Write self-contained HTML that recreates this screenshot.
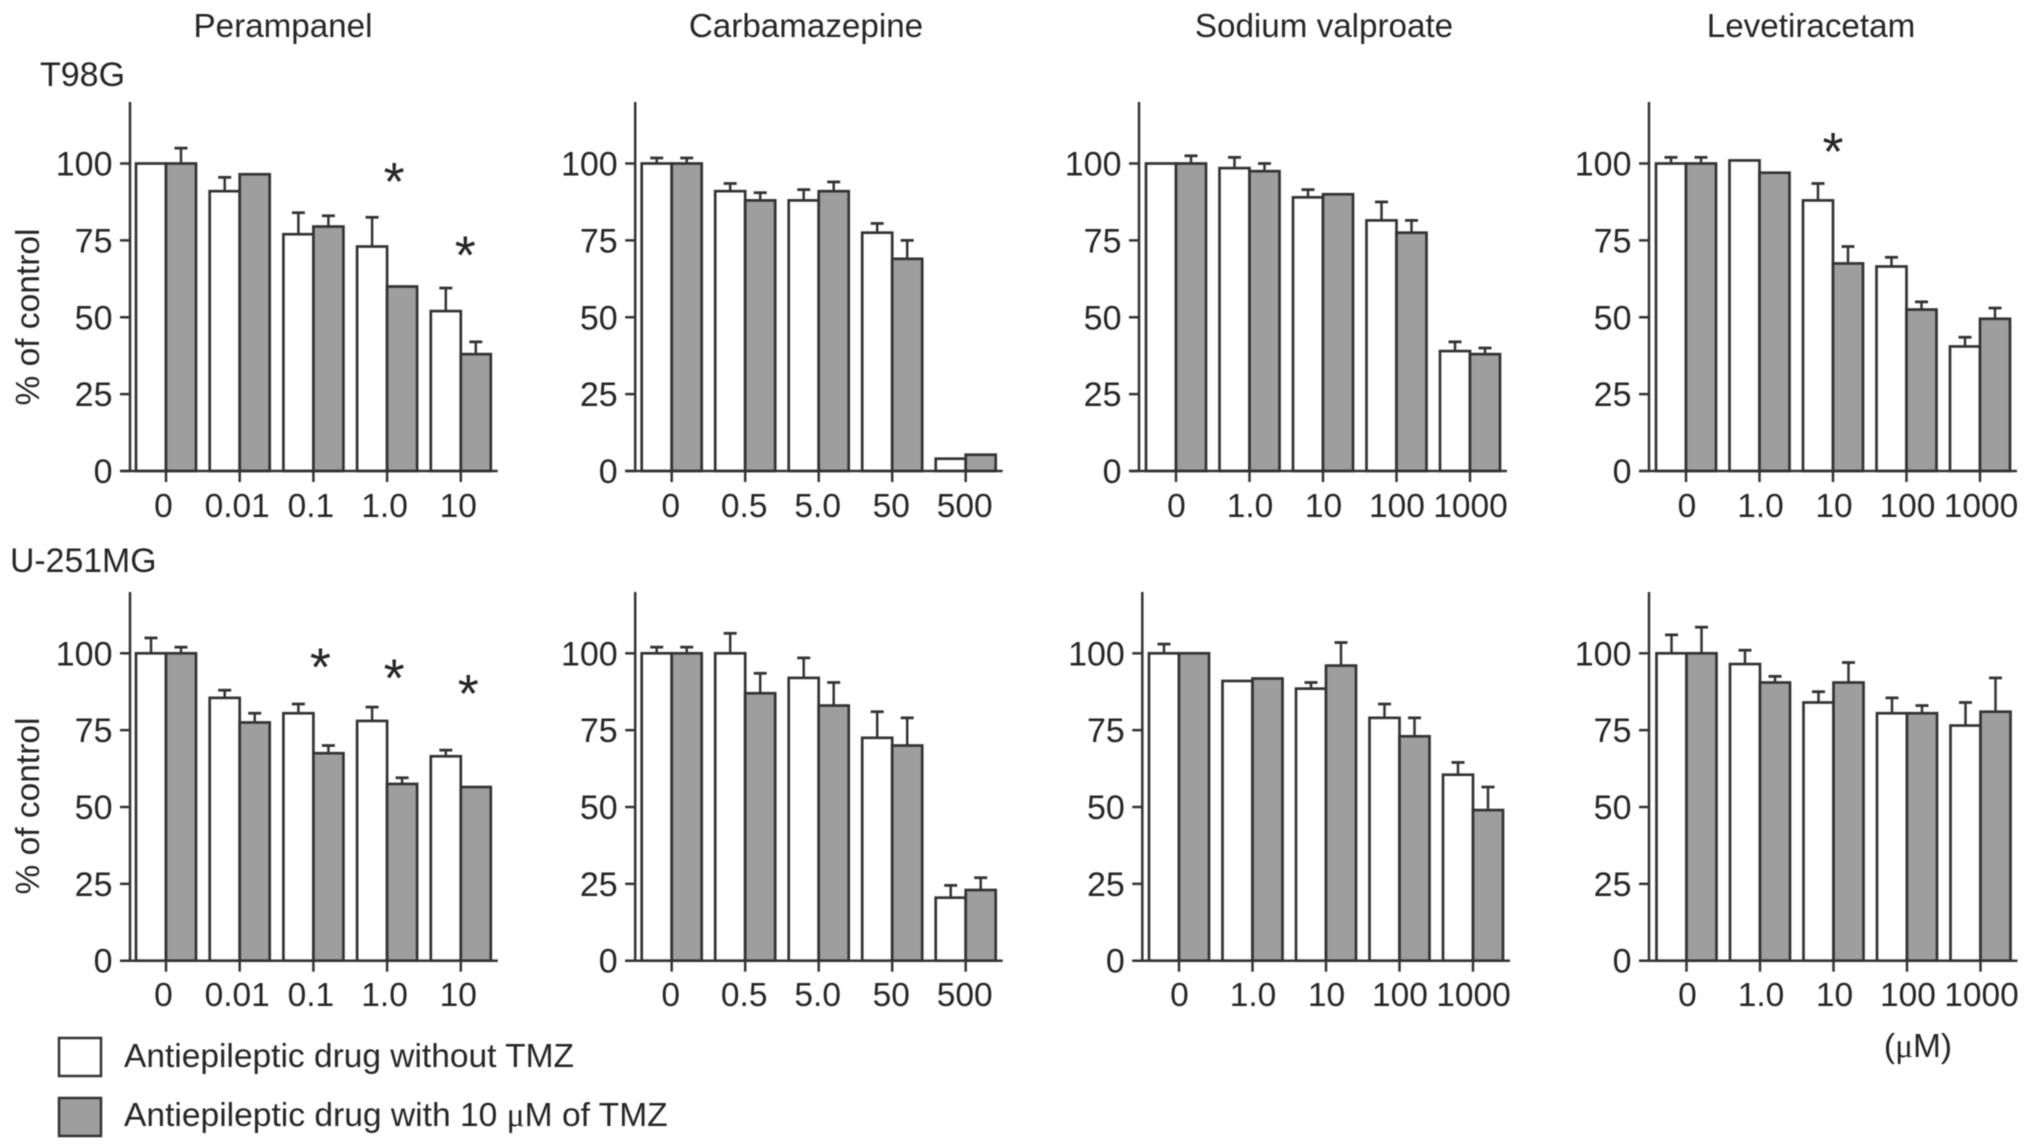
<!DOCTYPE html>
<html lang="en">
<head>
<meta charset="utf-8">
<title>Antiepileptic drug viability bar charts</title>
<style>
  html, body { margin: 0; padding: 0; background: #fff; }
  body { width: 2032px; height: 1148px; overflow: hidden; }
  svg { display: block; filter: blur(0.5px); }
  text { font-family: "Liberation Sans", sans-serif; fill: #262626; }
  tspan.mu { font-family: "Liberation Serif", serif; }
</style>
</head>
<body>
<svg id="figure" xmlns="http://www.w3.org/2000/svg" width="2032" height="1148" viewBox="0 0 2032 1148">
  <text x="283" y="37" font-size="33.2" text-anchor="middle">Perampanel</text>
  <text x="806" y="37" font-size="33.2" text-anchor="middle">Carbamazepine</text>
  <text x="1324" y="37" font-size="33.2" text-anchor="middle">Sodium valproate</text>
  <text x="1811" y="37" font-size="33.2" text-anchor="middle">Levetiracetam</text>
  <text x="40" y="86" font-size="34">T98G</text>
  <text x="10" y="572" font-size="33.8">U-251MG</text>
  <text transform="translate(39 317) rotate(-90)" font-size="33.5" text-anchor="middle">% of control</text>
  <text transform="translate(39 806) rotate(-90)" font-size="33.5" text-anchor="middle">% of control</text>
  <text x="1918" y="1057" font-size="33.5" text-anchor="middle">(<tspan class="mu">μ</tspan>M)</text>
  <rect x="59" y="1038" width="42" height="38" fill="#fff" stroke="#333" stroke-width="2.5"/>
  <text x="124" y="1067" font-size="33.5">Antiepileptic drug without TMZ</text>
  <rect x="59" y="1098" width="42" height="38" fill="#9e9e9e" stroke="#333" stroke-width="2.5"/>
  <text x="124" y="1126" font-size="33.6">Antiepileptic drug with 10 <tspan class="mu">μ</tspan>M of TMZ</text>
</svg>
<script>
// Categories (concentration labels)
const perampanelDoses = ['0', '0.01', '0.1', '1.0', '10'];
const carbamazepineDoses = ['0', '0.5', '5.0', '50', '500'];
const valproateDoses = ['0', '1.0', '10', '100', '1000'];
const levetiracetamDoses = ['0', '1.0', '10', '100', '1000'];
const yTickValues = [0, 25, 50, 75, 100];

// T98G: bar values and error-bar tops (null = no visible error bar)
const t98gPerampanelWithout = [100, 91, 77, 73, 52];
const t98gPerampanelWith = [100, 96.5, 79.5, 60, 38];
const t98gPerampanelWithoutErr = [null, 95.5, 84, 82.5, 59.5];
const t98gPerampanelWithErr = [105, null, 83, null, 42];

const t98gCarbamazepineWithout = [100, 91, 88, 77.5, 4];
const t98gCarbamazepineWith = [100, 88, 91, 69, 5.3];
const t98gCarbamazepineWithoutErr = [101.8, 93.5, 91.5, 80.5, null];
const t98gCarbamazepineWithErr = [101.8, 90.5, 94, 75, null];

const t98gValproateWithout = [100, 98.5, 89, 81.5, 39];
const t98gValproateWith = [100, 97.5, 90, 77.5, 38];
const t98gValproateWithoutErr = [null, 102, 91.5, 87.5, 42];
const t98gValproateWithErr = [102.5, 100, null, 81.5, 40];

const t98gLevetiracetamWithout = [100, 101, 88, 66.5, 40.5];
const t98gLevetiracetamWith = [100, 97, 67.5, 52.5, 49.5];
const t98gLevetiracetamWithoutErr = [102, null, 93.5, 69.5, 43.5];
const t98gLevetiracetamWithErr = [102, null, 73, 55, 53];

// U-251MG: bar values and error-bar tops
const u251PerampanelWithout = [100, 85.5, 80.5, 78, 66.5];
const u251PerampanelWith = [100, 77.5, 67.5, 57.5, 56.5];
const u251PerampanelWithoutErr = [105, 88, 83.5, 82.5, 68.5];
const u251PerampanelWithErr = [102, 80.5, 70, 59.5, null];

const u251CarbamazepineWithout = [100, 100, 92, 72.5, 20.5];
const u251CarbamazepineWith = [100, 87, 83, 70, 23];
const u251CarbamazepineWithoutErr = [102, 106.5, 98.5, 81, 24.5];
const u251CarbamazepineWithErr = [102, 93.5, 90.5, 79, 27];

const u251ValproateWithout = [100, 91, 88.5, 79, 60.5];
const u251ValproateWith = [100, 91.8, 96, 73, 49];
const u251ValproateWithoutErr = [103, null, 90.5, 83.5, 64.5];
const u251ValproateWithErr = [null, null, 103.5, 79, 56.5];

const u251LevetiracetamWithout = [100, 96.5, 84, 80.5, 76.5];
const u251LevetiracetamWith = [100, 90.5, 90.5, 80.5, 81];
const u251LevetiracetamWithoutErr = [106, 101, 87.5, 85.5, 84];
const u251LevetiracetamWithErr = [108.5, 92.5, 97, 83, 92];

// Significance markers: height on the value axis, null = none
const t98gPerampanelStars = [null, null, null, 96, 72];
const t98gLevetiracetamStars = [null, null, 105.7, null, null];
const u251PerampanelStars = [null, null, 97.4, 93.7, 88.7];

const SVG_NS = 'http://www.w3.org/2000/svg';
const svg = document.getElementById('figure');
const INK = '#333';
const GREY = '#9e9e9e';
const BAR_W = 30;

const rows = {
  t98g: { y0: 471, y100: 163.5, top: 102, labelY: 517 },
  u251: { y0: 960.7, y100: 653.3, top: 592, labelY: 1006 }
};

const panels = [
  { id: 't98g-perampanel', row: rows.t98g, axis: 130, first: 166, step: 73.7, labelDx: -2.5, doses: perampanelDoses, without: t98gPerampanelWithout, withT: t98gPerampanelWith, e0: t98gPerampanelWithoutErr, e1: t98gPerampanelWithErr, stars: t98gPerampanelStars, starDx: [0, 0, 0, 7, 4.5] },
  { id: 't98g-carbamazepine', row: rows.t98g, axis: 635.2, first: 671.7, step: 73.5, labelDx: -1, doses: carbamazepineDoses, without: t98gCarbamazepineWithout, withT: t98gCarbamazepineWith, e0: t98gCarbamazepineWithoutErr, e1: t98gCarbamazepineWithErr },
  { id: 't98g-sodium-valproate', row: rows.t98g, axis: 1139, first: 1176, step: 73.5, labelDx: 0.5, doses: valproateDoses, without: t98gValproateWithout, withT: t98gValproateWith, e0: t98gValproateWithoutErr, e1: t98gValproateWithErr },
  { id: 't98g-levetiracetam', row: rows.t98g, axis: 1649, first: 1686, step: 73.5, labelDx: 1, doses: levetiracetamDoses, without: t98gLevetiracetamWithout, withT: t98gLevetiracetamWith, e0: t98gLevetiracetamWithoutErr, e1: t98gLevetiracetamWithErr, stars: t98gLevetiracetamStars, starDx: [0, 0, 0, 0, 0] },
  { id: 'u251-perampanel', row: rows.u251, axis: 130, first: 166, step: 73.7, labelDx: -2.5, doses: perampanelDoses, without: u251PerampanelWithout, withT: u251PerampanelWith, e0: u251PerampanelWithoutErr, e1: u251PerampanelWithErr, stars: u251PerampanelStars, starDx: [0, 0, 7, 7, 7.5] },
  { id: 'u251-carbamazepine', row: rows.u251, axis: 635.2, first: 671.7, step: 73.5, labelDx: -1, doses: carbamazepineDoses, without: u251CarbamazepineWithout, withT: u251CarbamazepineWith, e0: u251CarbamazepineWithoutErr, e1: u251CarbamazepineWithErr },
  { id: 'u251-sodium-valproate', row: rows.u251, axis: 1142.3, first: 1179, step: 73.5, labelDx: 0.5, doses: valproateDoses, without: u251ValproateWithout, withT: u251ValproateWith, e0: u251ValproateWithoutErr, e1: u251ValproateWithErr },
  { id: 'u251-levetiracetam', row: rows.u251, axis: 1649, first: 1686.5, step: 73.5, labelDx: 1, doses: levetiracetamDoses, without: u251LevetiracetamWithout, withT: u251LevetiracetamWith, e0: u251LevetiracetamWithoutErr, e1: u251LevetiracetamWithErr }
];

function make(tag, attrs, parent) {
  const el = document.createElementNS(SVG_NS, tag);
  for (const k in attrs) el.setAttribute(k, attrs[k]);
  parent.appendChild(el);
  return el;
}

function drawLine(parent, x1, y1, x2, y2, w) {
  return make('line', { x1: x1, y1: y1, x2: x2, y2: y2, stroke: INK, 'stroke-width': w }, parent);
}

function drawError(parent, name, cx, yTop, yBar) {
  const g = make('g', {}, parent);
  
  
  drawLine(g, cx, yTop, cx, yBar, 2.5);
  drawLine(g, cx - 6.5, yTop, cx + 6.5, yTop, 2.8);
}

function drawPanel(p) {
  const yScale = function (v) { return p.row.y0 - v * (p.row.y0 - p.row.y100) / 100; };
  const xScale = function (i) { return p.first + i * p.step; };

  const g = make('g', {}, svg);
  
  

  p.doses.forEach(function (dose, i) {
    const tx = xScale(i);
    const v0 = p.without[i];
    const v1 = p.withT[i];

    if (p.e0[i] !== null) {
      drawError(g, 'error-bar-without-tmz', tx - BAR_W / 2, yScale(p.e0[i]), yScale(v0));
    }
    if (p.e1[i] !== null) {
      drawError(g, 'error-bar-with-tmz', tx + BAR_W / 2, yScale(p.e1[i]), yScale(v1));
    }

    const white = make('rect', { x: tx - BAR_W, y: yScale(v0), width: BAR_W, height: yScale(0) - yScale(v0), fill: '#fff', stroke: INK, 'stroke-width': 2.7 }, g);
    
    

    const grey = make('rect', { x: tx, y: yScale(v1), width: BAR_W, height: yScale(0) - yScale(v1), fill: GREY, stroke: INK, 'stroke-width': 2.7 }, g);
    
    

    const tick = drawLine(g, tx, yScale(0), tx, yScale(0) + 11, 2.5);
    
    

    const label = make('text', { x: tx + p.labelDx, y: p.row.labelY, 'font-size': 33.5, 'text-anchor': 'middle' }, g);
    label.textContent = dose;
    
    

    if (p.stars && p.stars[i] !== null) {
      const star = make('text', { x: tx + p.starDx[i], y: yScale(p.stars[i]) + 24, 'font-size': 54, 'text-anchor': 'middle', fill: '#555' }, g);
      star.textContent = '*';
      
      
    }
  });

  const yAxis = drawLine(g, p.axis, p.row.top, p.axis, yScale(0), 2.5);
  
  

  const xAxis = drawLine(g, p.axis - 10, yScale(0), p.first + 4 * p.step + 37, yScale(0), 2.5);
  
  

  yTickValues.forEach(function (v) {
    const t = drawLine(g, p.axis - 10, yScale(v), p.axis, yScale(v), 2.5);
    
    

    const lab = make('text', { x: p.axis - 17.5, y: yScale(v) + 12, 'font-size': 34, 'text-anchor': 'end' }, g);
    lab.textContent = String(v);
    
    
  });
}

panels.forEach(drawPanel);
</script>
</body>
</html>
